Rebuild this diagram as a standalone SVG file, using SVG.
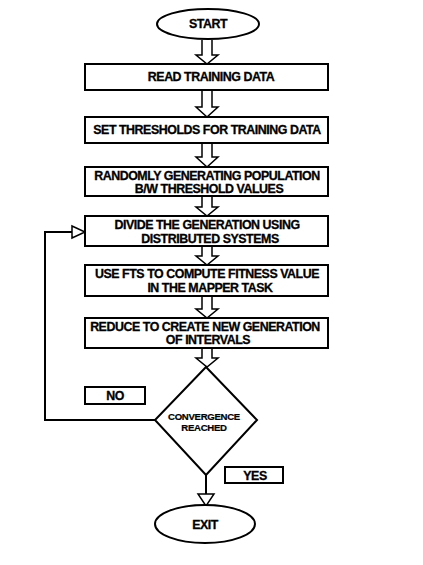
<svg xmlns="http://www.w3.org/2000/svg" width="423" height="565" viewBox="0 0 423 565">
<style>
.b{fill:#fff;stroke:#000;stroke-width:2}
.t{font-family:"Liberation Sans",Arial,sans-serif;font-weight:bold;font-size:12.4px;text-anchor:middle;fill:#000;letter-spacing:-0.45px;stroke:#000;stroke-width:0.3}
.s{font-size:9.6px;letter-spacing:-0.3px;stroke-width:0.2}
.c{fill:none;stroke:#000;stroke-width:2}
.h{fill:#fff;stroke:#000;stroke-width:1.5}
</style>
<rect width="423" height="565" fill="#fff"/>
<g id="connectors">
<path class="h" d="M202,40 V55 H196 L207,64 L218,55 H212 V40"/>
<path class="h" d="M202,90 V107 H196 L207,117 L218,107 H212 V90"/>
<path class="h" d="M202,143 V157 H196 L207,167 L218,157 H212 V143"/>
<path class="h" d="M202,196 V207 H196 L207,216 L218,207 H212 V196"/>
<path class="h" d="M202,246 V256 H196 L207,265 L218,256 H212 V246"/>
<path class="h" d="M202,296 V309 H196 L207,318 L218,309 H212 V296"/>
<path class="h" d="M202,348 V358 H196 L207,367 L218,358 H212 V348"/>
<path class="c" d="M155,420 H45 V232 H72"/>
<path class="h" d="M72,226 L85,232 L72,238 Z"/>
<path class="c" d="M206,475 V494"/>
<path class="h" d="M198,494 H214 L206,506 Z"/>
</g>
<g id="start"><ellipse class="b" cx="208" cy="24" rx="51" ry="15"/><text class="t" x="208" y="28">START</text></g>
<g id="read"><rect class="b" x="85" y="64" width="243" height="26"/><text class="t" x="211" y="81">READ TRAINING DATA</text></g>
<g id="set"><rect class="b" x="85" y="117" width="243" height="26"/><text class="t" x="207" y="134">SET THRESHOLDS FOR TRAINING DATA</text></g>
<g id="random"><rect class="b" x="85" y="167" width="243" height="29"/><text class="t" x="207" y="180">RANDOMLY GENERATING POPULATION</text><text class="t" x="209" y="193">B/W THRESHOLD VALUES</text></g>
<g id="divide"><rect class="b" x="85" y="216" width="243" height="30"/><text class="t" x="207" y="229">DIVIDE THE GENERATION USING</text><text class="t" x="210" y="243">DISTRIBUTED SYSTEMS</text></g>
<g id="fts"><rect class="b" x="85" y="265" width="243" height="31"/><text class="t" x="207" y="278">USE FTS TO COMPUTE FITNESS VALUE</text><text class="t" x="210" y="292">IN THE MAPPER TASK</text></g>
<g id="reduce"><rect class="b" x="85" y="318" width="243" height="30"/><text class="t" x="205" y="331">REDUCE TO CREATE NEW GENERATION</text><text class="t" x="208" y="344">OF INTERVALS</text></g>
<g id="decision"><path class="b" d="M206,367 L257,420 L206,475 L155,420 Z"/><text class="t s" x="204" y="420">CONVERGENCE</text><text class="t s" x="204" y="431">REACHED</text></g>
<g id="no"><rect class="b" x="85" y="387" width="60" height="17"/><text class="t" x="115" y="400">NO</text></g>
<g id="yes"><rect class="b" x="225" y="467" width="58" height="16"/><text class="t" x="255" y="480">YES</text></g>
<g id="exit"><ellipse class="b" cx="205" cy="524" rx="50" ry="19"/><text class="t" x="205" y="529">EXIT</text></g>
</svg>
